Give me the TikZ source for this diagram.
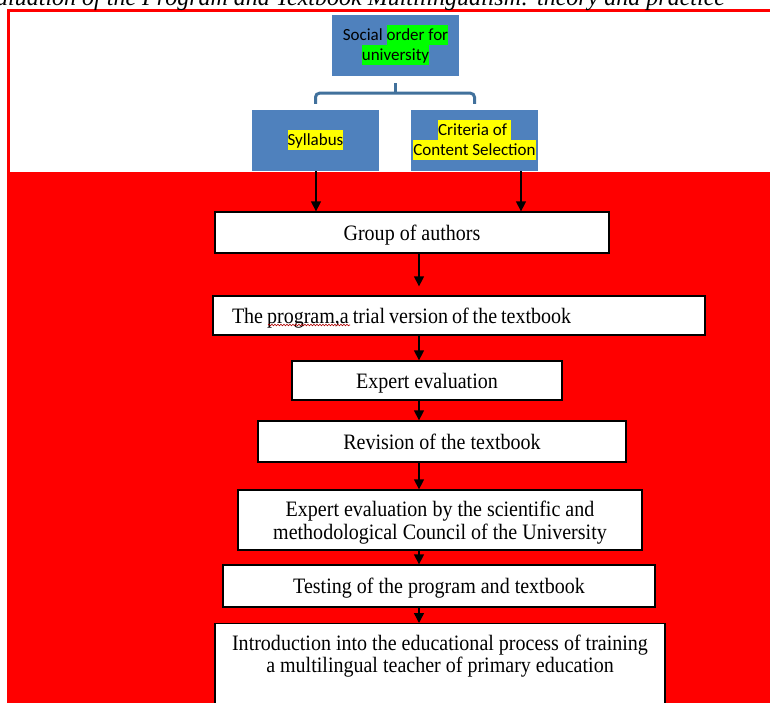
\documentclass[tikz,border=0pt]{standalone}
\usepackage{fontspec}
\setmainfont{Liberation Serif}[FakeStretch=0.91]
\newfontfamily\calfont{Carlito}
\newfontfamily\capfont{Liberation Serif}
\usetikzlibrary{arrows.meta,decorations.pathmorphing}

\definecolor{boxblue}{HTML}{4F81BD}
\definecolor{linkblue}{HTML}{41719C}
\definecolor{hlgreen}{HTML}{00FF00}
\definecolor{hlyellow}{HTML}{FFFF00}
\definecolor{framered}{HTML}{FF0000}

\newcommand{\hlite}[2]{{\setlength{\fboxsep}{0pt}\colorbox{#1}{\rule[-5pt]{0pt}{20pt}#2}}}

\begin{document}
\begin{tikzpicture}[x=1pt,y=-1pt,
  bluebox/.style={fill=boxblue,minimum width=127pt,minimum height=61pt,inner sep=0pt,align=center,font=\calfont\fontsize{17}{20}\selectfont},
  whitebox/.style={draw=black,fill=white,line width=1.3pt,inner sep=0pt,text depth=0pt,font=\fontsize{22}{23}\selectfont},
  arr/.style={line width=1.4pt,-{Triangle[width=10pt,length=10pt]}},
  bracket/.style={draw=linkblue,line width=3pt,rounded corners=4pt}]
  \useasboundingbox (0,0) rectangle (770,703);
  \clip (0,0) rectangle (770,703);
  % frame
  \fill[framered] (7,9) rectangle (770,703);
  \fill[white] (10,12) rectangle (770,172);
  \node[anchor=base west,inner sep=0pt,font=\capfont\fontsize{24}{28}\selectfont\itshape] (caption) at (-4,6) {aluation of the Program and Textbook Multilingualism: theory and practice};

  % top part
  \node[bluebox] (social) at (395.5,45.5) {Social \hlite{hlgreen}{order for}\\\hlite{hlgreen}{university}};
  \node[bluebox] (syllabus) at (315.5,140.5) {\hlite{hlyellow}{Syllabus}};
  \node[bluebox] (criteria) at (474.5,140.5) {\hlite{hlyellow}{Criteria of }\\\hlite{hlyellow}{Content Selection}};
  \draw[bracket] ([yshift=-7pt]social.south) -- ([yshift=-17pt]social.south);
  \draw[bracket] ([yshift=6pt]syllabus.north) |- ([yshift=-17pt]social.south) -| ([yshift=6pt]criteria.north);

  % steps
  \node[whitebox,minimum width=394pt,minimum height=41pt] (group) at (412,232.5) {Group of authors};
  \node[whitebox,minimum height=39pt,inner xsep=19pt,text width=454pt,align=left] (program) at (459,315.5) {\spaceskip=4pt The program,a trial version of the textbook};
  \node[whitebox,minimum width=270pt,minimum height=39pt] (expert) at (427,380.5) {Expert evaluation};
  \node[whitebox,minimum width=368pt,minimum height=41pt] (revision) at (442,441.5) {Revision of the textbook};
  \node[whitebox,minimum width=404pt,minimum height=60pt,align=center,text depth=-2pt] (council) at (440,520) {Expert evaluation by the scientific and\\methodological Council of the University};
  \node[whitebox,minimum width=432pt,minimum height=42pt] (testing) at (439,586) {Testing of the program and textbook};
  \node[whitebox,minimum width=450pt,minimum height=100pt,anchor=north] (intro) at (440,623) {};
  \node[anchor=north,inner sep=0pt,align=center,font=\fontsize{22}{22}\selectfont] (introtext) at ([yshift=-12pt]intro.north) {Introduction into the educational process of training\\a multilingual teacher of primary education};
  \draw[decorate,decoration={snake,amplitude=0.8pt,segment length=3pt},draw=red!70!black,line width=0.6pt] (268,325) -- (350,325);

  % arrows
  \coordinate (spine) at (419,0);
  \draw[arr] ([xshift=0.5pt]syllabus.south) -- ([xshift=0.5pt]syllabus.south |- group.north);
  \draw[arr] ([xshift=46.5pt]criteria.south) -- ([xshift=46.5pt]criteria.south |- group.north);
  \draw[arr,shorten >=9pt] (group.south -| spine) -- (program.north -| spine);
  \draw[arr] (program.south -| spine) -- (expert.north -| spine);
  \draw[arr] (expert.south -| spine) -- (revision.north -| spine);
  \draw[arr] (revision.south -| spine) -- (council.north -| spine);
  \draw[arr] (council.south -| spine) -- (testing.north -| spine);
  \draw[arr] (testing.south -| spine) -- (intro.north -| spine);
\end{tikzpicture}
\end{document}
